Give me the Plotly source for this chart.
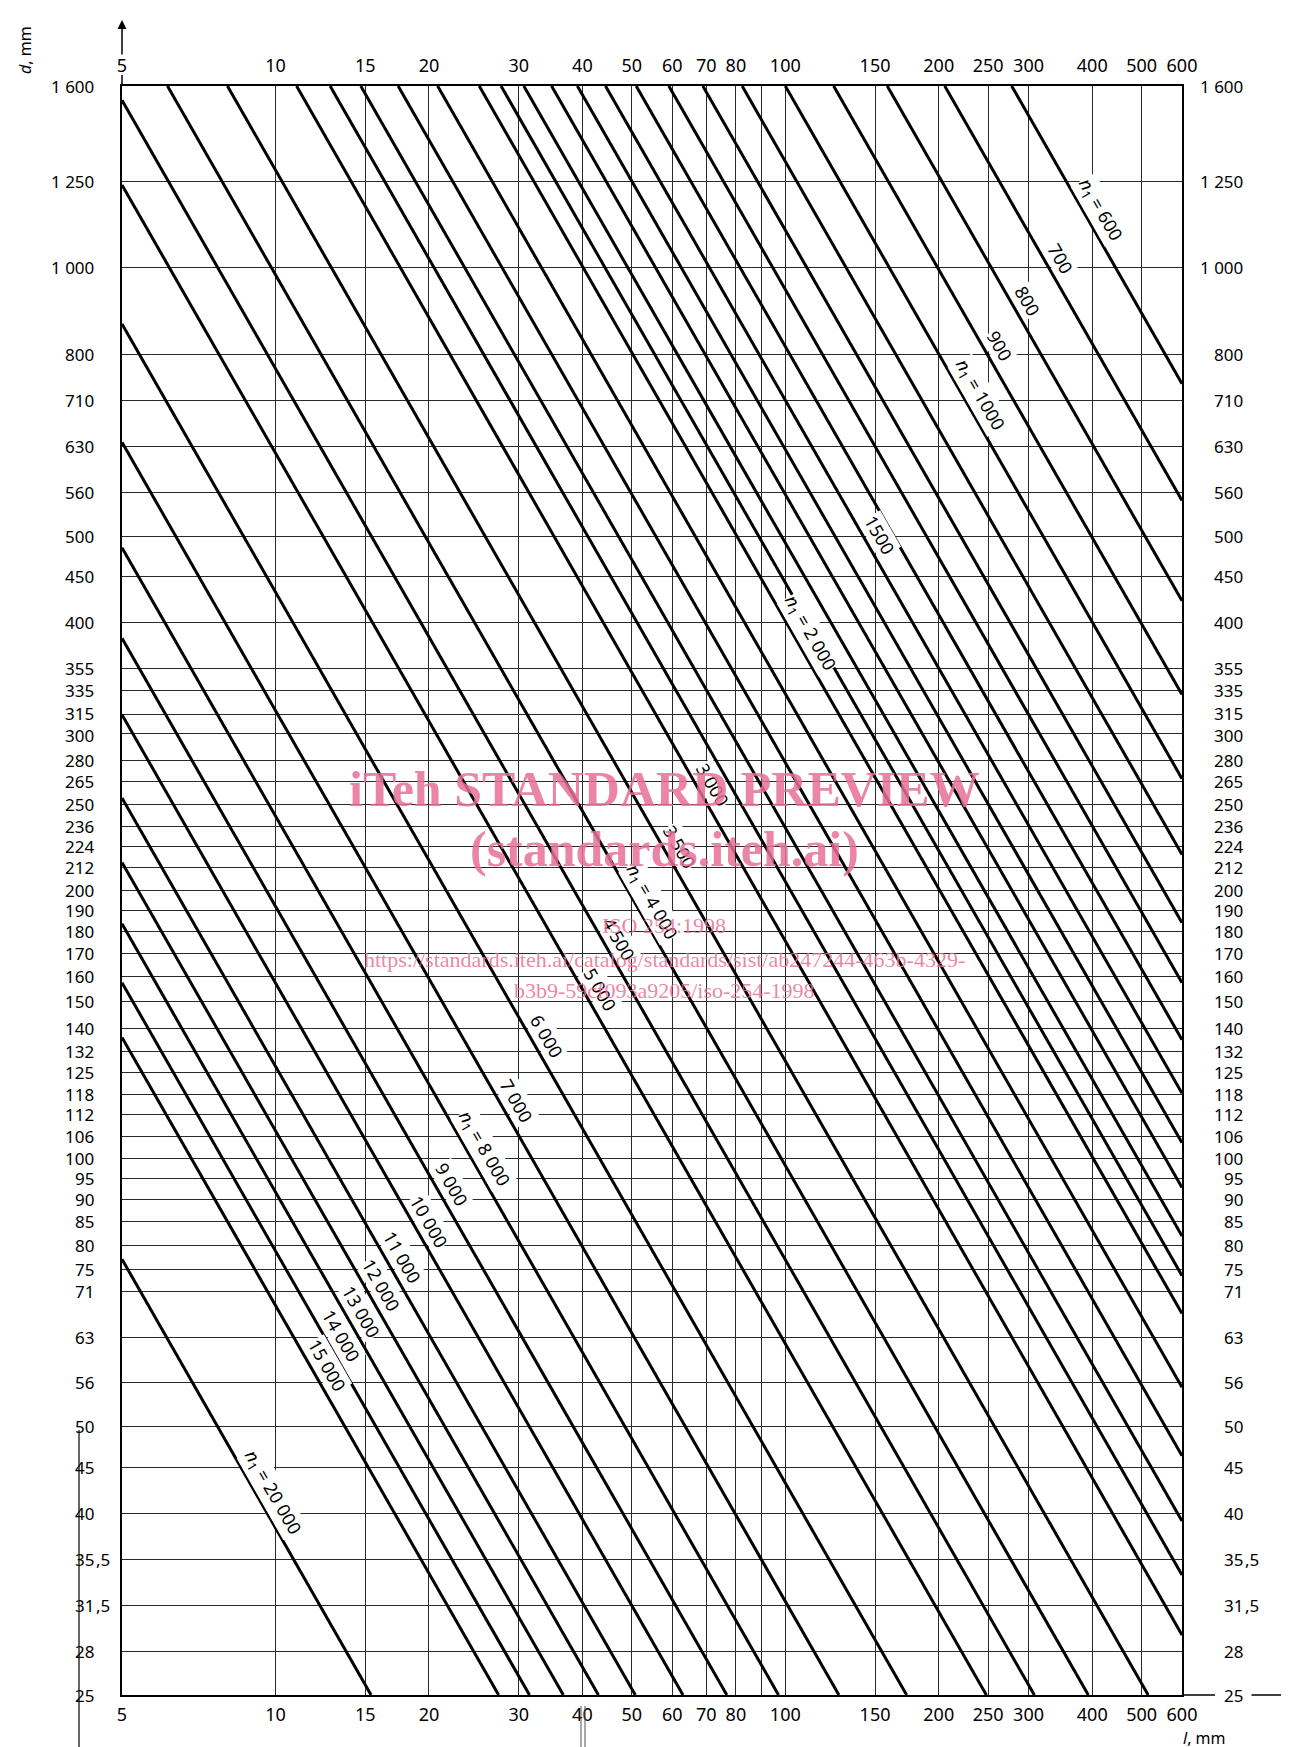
import math
import plotly.graph_objects as go

# ---------------- data ----------------
n1_values = [600, 700, 800, 900, 1000, 1100, 1200, 1300, 1400, 1500, 1600, 1700, 1800, 1900,
             2000, 2200, 2400, 2600, 2800, 3000, 3500, 4000, 4500, 5000, 6000, 7000, 8000,
             9000, 10000, 11000, 12000, 13000, 14000, 15000, 20000]
# where each n1 line enters the frame (l, d) ...
line_l_start = [278, 205.5, 158.5, 124.4, 100, 82.3, 68.9, 59.1, 51.0, 44.4, 39.1, 34.8, 30.7, 27.7,
                25.1, 20.8, 17.4, 14.7, 12.8, 11.0, 8.05, 6.14, 5, 5, 5, 5, 5,
                5, 5, 5, 5, 5, 5, 5, 5]
line_d_start = [1600, 1600, 1600, 1600, 1600, 1600, 1600, 1600, 1600, 1600, 1600, 1600, 1600, 1600,
                1600, 1600, 1600, 1600, 1600, 1600, 1600, 1600, 1542, 1239, 865, 637, 485,
                384, 315, 254, 215, 183.5, 157.6, 136.8, 77.1]
# ... and where it leaves it (l, d)
line_l_end = [600, 600, 600, 600, 600, 600, 600, 600, 600, 600, 600, 600, 600, 600,
              600, 600, 600, 600, 600, 600, 515, 393, 308, 248, 173, 127.4, 97,
              76.8, 63, 50.8, 43, 36.7, 31.5, 27.4, 15.4]
line_d_end = [741, 548, 423, 332, 267, 219.5, 184, 157.6, 136, 118.4, 104.2, 92.8, 81.9, 73.9,
              67.0, 55.4, 46.4, 39.2, 34.1, 29.2, 25, 25, 25, 25, 25, 25, 25,
              25, 25, 25, 25, 25, 25, 25, 25]

l_ticks = [5, 10, 15, 20, 30, 40, 50, 60, 70, 80, 90, 100, 150, 200, 250, 300, 400, 500, 600]
l_ticktext = ["5", "10", "15", "20", "30", "40", "50", "60", "70", "80", "", "100", "150", "200",
              "250", "300", "400", "500", "600"]
d_ticks = [25, 28, 31.5, 35.5, 40, 45, 50, 56, 63, 71, 75, 80, 85, 90, 95, 100, 106, 112, 118, 125,
           132, 140, 150, 160, 170, 180, 190, 200, 212, 224, 236, 250, 265, 280, 300, 315, 335, 355,
           400, 450, 500, 560, 630, 710, 800, 1000, 1250, 1600]
d_ticktext = ["25", "28", "31,5", "35,5", "40", "45", "50", "56", "63", "71", "75", "80", "85", "90",
              "95", "100", "106", "112", "118", "125", "132", "140", "150", "160", "170", "180", "190",
              "200", "212", "224", "236", "250", "265", "280", "300", "315", "335", "355", "400", "450",
              "500", "560", "630", "710", "800", "1 000", "1 250", "1 600"]

N1 = "<i>n</i><sub>1</sub> = "
label_n1 = [600, 700, 800, 900, 1000, 1500, 2000, 3000, 3500, 4000, 4500, 5000, 6000, 7000, 8000,
            9000, 10000, 11000, 12000, 13000, 14000, 15000, 20000]
label_text = [N1 + "600", "700", "800", "900", N1 + "1000", "1500", N1 + "2 000", "3 000", "3 500",
              N1 + "4 000", "4 500", "5 000", "6 000", "7 000", N1 + "8 000", "9 000", "10 000",
              "11 000", "12 000", "13 000", "14 000", "15 000", N1 + "20 000"]
# position of each label along its line (l value of the foot point)
label_at_l = [390, 327.5, 281.8, 248.5, 227, 144.5, 105.4, 68.1, 58.6, 51.6, 44.5, 40.8, 32.1, 28.0,
              24.1, 20.9, 18.9, 16.7, 15.2, 13.9, 12.7, 11.9, 9.3]

# ---------------- layout geometry ----------------
W, H = 1289, 1747
ML, MR, MT, MB = 114, 115, 78, 60
PW, PH = W - ML - MR, H - MT - MB
XR = [math.log10(5), math.log10(600)]
YR = [math.log10(25), math.log10(1600)]
FONT = "Noto Sans"
TICK_SIZE = 17
# small vertical nudges (px) for the two most crowded d labels
label_nudge = {315: 1.5, 300: -1.5}


def px_x(px):
    return (px - ML) / PW


def px_y(py):
    return (H - MB - py) / PH


fig = go.Figure()

for i, n in enumerate(n1_values):
    fig.add_trace(go.Scatter(
        x=[line_l_start[i], line_l_end[i]], y=[line_d_start[i], line_d_end[i]],
        mode="lines", line=dict(color="black", width=3), hoverinfo="skip", showlegend=False))

# invisible trace so the top axis is drawn
fig.add_trace(go.Scatter(x=[5, 600], y=[25, 1600], xaxis="x2", yaxis="y", mode="markers",
                         marker=dict(opacity=0), hoverinfo="skip", showlegend=False))

tickfont = dict(family=FONT, size=TICK_SIZE + 1, color="black")
common_x = dict(type="log", range=XR, tickmode="array", tickvals=l_ticks, ticktext=l_ticktext,
                ticks="", tickfont=tickfont, zeroline=False, fixedrange=True)

fig.update_layout(
    width=W, height=H, autosize=False,
    margin=dict(l=ML, r=MR, t=MT, b=MB, pad=0),
    paper_bgcolor="white", plot_bgcolor="white", showlegend=False,
    xaxis=dict(**common_x, side="bottom", showgrid=True, gridcolor="#2a2a2a", gridwidth=1,
               showline=True, mirror=True, linecolor="black", linewidth=1.5,
               ticklabelstandoff=3),
    xaxis2=dict(**common_x, side="top", overlaying="x", showgrid=False, showline=False,
                ticklabelstandoff=9),
    yaxis=dict(type="log", range=YR, tickmode="array", tickvals=d_ticks, showticklabels=False,
               ticks="", zeroline=False, fixedrange=True, showgrid=True, gridcolor="#2a2a2a",
               gridwidth=1, showline=True, mirror=True, linecolor="black", linewidth=1.5),
)

# d tick labels on both sides, aligned on the decimal comma
for d, txt in zip(d_ticks, d_ticktext):
    whole, _, frac = txt.partition(",")
    nudge = label_nudge.get(d, 0)
    for xpos in (87, 1236):
        fig.add_annotation(x=px_x(xpos), y=math.log10(d), xref="paper", yref="y", text=whole,
                           showarrow=False, xanchor="right", yanchor="middle", yshift=nudge,
                           borderpad=0, font=dict(family=FONT, size=TICK_SIZE, color="black"))
        if frac:
            fig.add_annotation(x=px_x(xpos), y=math.log10(d), xref="paper", yref="y",
                               text="," + frac, showarrow=False, xanchor="left",
                               yanchor="middle", yshift=nudge, borderpad=0,
                               font=dict(family=FONT, size=TICK_SIZE, color="black"))

# line labels, rotated parallel to the lines and set off on their upper-right side
angle = math.degrees(math.atan((PH / (YR[1] - YR[0])) / (PW / (XR[1] - XR[0]))))
off = 15
xs = off * math.sin(math.radians(angle))
ys = off * math.cos(math.radians(angle))
for n, txt, lq in zip(label_n1, label_text, label_at_l):
    i = n1_values.index(n)
    x0, x1 = math.log10(line_l_start[i]), math.log10(line_l_end[i])
    y0, y1 = math.log10(line_d_start[i]), math.log10(line_d_end[i])
    t = (math.log10(lq) - x0) / (x1 - x0)
    fig.add_annotation(x=math.log10(lq), y=y0 + t * (y1 - y0), xref="x", yref="y", text=txt,
                       showarrow=False, textangle=angle, xshift=xs, yshift=ys,
                       xanchor="center", yanchor="middle",
                       font=dict(family=FONT, size=18, color="black"),
                       bgcolor="white", borderpad=0)

# axis titles
fig.add_annotation(x=px_x(17), y=px_y(42), xref="paper", yref="paper", text="<i>d</i>, mm",
                   showarrow=False, textangle=-90, xanchor="center", yanchor="middle",
                   font=dict(family=FONT, size=16, color="black"))
fig.add_annotation(x=px_x(1196), y=px_y(1730), xref="paper", yref="paper", text="<i>l</i>, mm",
                   showarrow=False, xanchor="center", yanchor="middle",
                   font=dict(family=FONT, size=16, color="black"))

# arrows of the axes
fig.add_shape(type="line", xref="paper", yref="paper", x0=0, x1=0, y0=1, y1=px_y(67),
              line=dict(color="black", width=1.5))
fig.add_annotation(x=0, y=px_y(12), xref="paper", yref="paper", ax=0, ay=36, text="",
                   showarrow=True, arrowhead=2, arrowsize=1.2, arrowwidth=1.5, arrowcolor="black")
fig.add_shape(type="line", xref="paper", yref="paper", x0=1, x1=px_x(1207), y0=0, y1=0,
              line=dict(color="black", width=1.5))
fig.add_annotation(x=px_x(1284), y=0, xref="paper", yref="paper", ax=-42, ay=0, text="",
                   showarrow=True, arrowhead=2, arrowsize=1.2, arrowwidth=1.5, arrowcolor="black")

# scan artefacts (page edge marks)
fig.add_shape(type="line", xref="paper", yref="paper", x0=px_x(71), x1=px_x(71), y0=px_y(1422),
              y1=px_y(1747), line=dict(color="#333", width=1.5))
for xx in (573, 577):
    fig.add_shape(type="line", xref="paper", yref="paper", x0=px_x(xx), x1=px_x(xx),
                  y0=px_y(1698), y1=px_y(1747), line=dict(color="#555", width=1))

# watermark
pink = "rgba(232, 112, 150, 0.85)"
wm = [("iTeh STANDARD PREVIEW", 781, 50, True),
      ("(standards.iteh.ai)", 841, 50, True),
      ("ISO 254:1998", 918, 22, False),
      ("https://standards.iteh.ai/catalog/standards/sist/ab247244-463b-4329-", 952, 22, False),
      ("b3b9-59cf093a9205/iso-254-1998", 982, 22, False)]
for txt, py, size, bold in wm:
    fig.add_annotation(x=px_x(656), y=px_y(py), xref="paper", yref="paper",
                       text=("<b>%s</b>" % txt) if bold else txt, showarrow=False,
                       xanchor="center", yanchor="middle",
                       font=dict(family="Liberation Serif", size=size, color=pink))

fig.write_html("out.html")
